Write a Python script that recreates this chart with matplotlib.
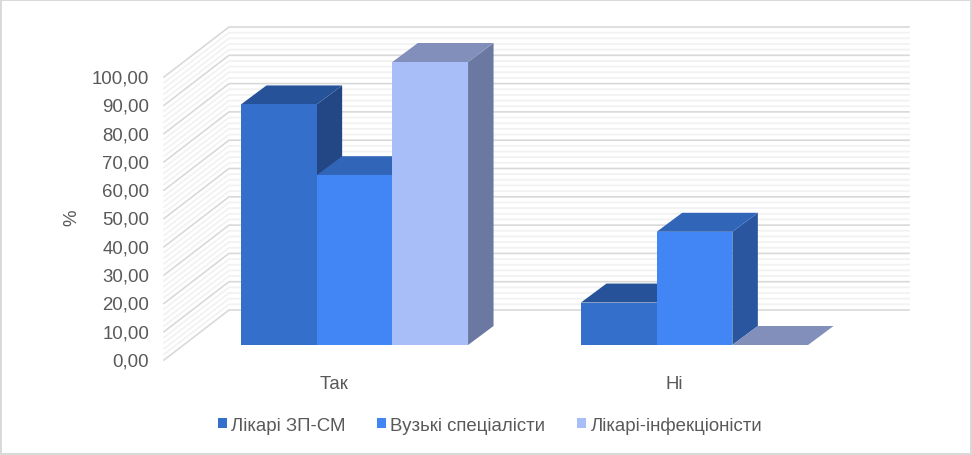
import matplotlib
matplotlib.use("Agg")
import matplotlib.pyplot as plt
from matplotlib.patches import Patch, Rectangle
from matplotlib.transforms import ScaledTranslation
import numpy as np

categories = ["Так", "Ні"]
series_names = ["Лікарі ЗП-СМ", "Вузькі спеціалісти", "Лікарі-інфекціоністи"]
zp_sm = [85, 15]
vuzki = [60, 40]
infek = [100, 0]
y_ticks = [0, 10, 20, 30, 40, 50, 60, 70, 80, 90, 100]

front_cols = ["#336FCB", "#4285F4", "#A8BEF8"]
top_cols = ["#265299", "#3165B8", "#828FBB"]
side_cols = ["#234785", "#2A569F", "#6B78A1"]

plt.rcParams["font.family"] = ["Liberation Sans", "DejaVu Sans"]
grey = "#595959"
fs = 13.4

W, H = 972, 456
fig = plt.figure(figsize=(W / 100, H / 100), dpi=100)

# plot box in pixels, front left corner of the floor is (164, 361)
left, right, top, bottom = 164, 909, 28, 361
ax = fig.add_axes([left / W, 1 - bottom / H, (right - left) / W, (bottom - top) / H])
px_x = 340.0   # pixels for one category
px_y = 2.83    # pixels for one percent
ax.set_xlim(-0.5, -0.5 + (right - left) / px_x)
ax.set_ylim(0, (bottom - top) / px_y)

# one full depth of the box, in data units
dx = 65 / px_x
dy = 50 / px_y
n_cat = len(categories)

# gridlines: major and minor on the back wall and left wall
for v in np.arange(0, 100.1, 2):
    major = v % 10 == 0
    col = "#D9D9D9" if major else "#F2F2F2"
    lw = 1.2 if major else 1.3
    z = 2 if major else 1
    ax.plot([-0.5, -0.5 + dx, -0.5 + dx + n_cat], [v, v + dy, v + dy], color=col,
            lw=lw, zorder=z, clip_on=False, solid_joinstyle="miter")

# bars sit in the middle of the depth
bar_w = 75.7 / px_x
bar_dx = 25.5 / px_x
bar_dy = 19 / px_y
base_dx = 20.5 / px_x
base_dy = 15 / px_y


def draw_bar(x0, val, i):
    x0 = x0 + base_dx
    b = base_dy
    t = val + base_dy
    x1 = x0 + bar_w
    z = 5 + i
    ax.fill([x1, x1 + bar_dx, x1 + bar_dx, x1], [b, b + bar_dy, t + bar_dy, t],
            color=side_cols[i], lw=0, zorder=z, clip_on=False)
    ax.fill([x0, x1, x1 + bar_dx, x0 + bar_dx], [t, t, t + bar_dy, t + bar_dy],
            color=top_cols[i], lw=0, zorder=z, clip_on=False)
    if val > 0:
        ax.add_patch(Rectangle((x0, b), bar_w, val, facecolor=front_cols[i], lw=0,
                               zorder=z, clip_on=False))


for c in range(n_cat):
    for i, vals in enumerate([zp_sm, vuzki, infek]):
        start = c - 1.5 * bar_w
        draw_bar(start + i * bar_w, vals[c], i)

for s in ax.spines.values():
    s.set_visible(False)
ax.patch.set_visible(False)
ax.set_yticks(y_ticks)
ax.set_yticklabels(["%d,00" % v for v in y_ticks], fontsize=fs, color=grey)
ax.set_xticks(range(n_cat))
ax.set_xticklabels(categories, fontsize=fs, color=grey)
ax.tick_params(length=0)
ax.tick_params(axis="y", pad=10.8)
ax.tick_params(axis="x", pad=10.8)
# the value labels sit a little above their tick level
up = ScaledTranslation(0, 1 / 100, fig.dpi_scale_trans)
for lab in ax.get_yticklabels():
    lab.set_transform(lab.get_transform() + up)
ax.set_ylabel("%", fontsize=fs, color=grey)
ax.yaxis.set_label_coords((80 - left) / (right - left), 0.43)

handles = [Patch(facecolor=c, lw=0) for c in front_cols]
fig.legend(handles, series_names, loc="center", bbox_to_anchor=(490 / W, 1 - 426 / H),
           ncol=3, frameon=False, fontsize=fs, labelcolor=grey, handlelength=0.48,
           handleheight=0.48, handletextpad=0.22, columnspacing=1.72)

# chart border
fig.add_artist(Rectangle((1 / W, 1 / H), 1 - 2 / W, 1 - 2 / H, transform=fig.transFigure,
                         fill=False, edgecolor="#D9D9D9", lw=1.44))

fig.savefig("out.png", dpi=100)
